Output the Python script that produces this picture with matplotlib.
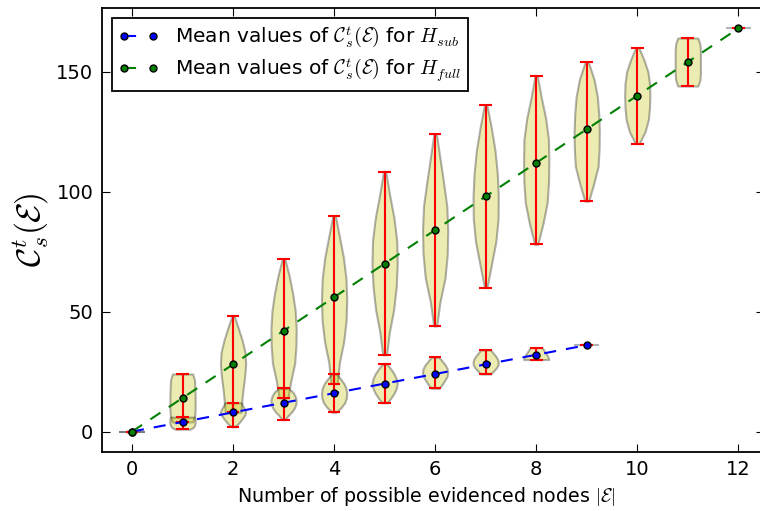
import numpy as np
import matplotlib
matplotlib.use("Agg")
import matplotlib.pyplot as plt

# mean / extrema of C_s^t(E) for each number of evidenced nodes
n_nodes_full = [0, 1, 2, 3, 4, 5, 6, 7, 8, 9, 10, 11, 12]
mean_full = [0, 14, 28, 42, 56, 70, 84, 98, 112, 126, 140, 154, 168]
min_full = [0, 4, 8, 14, 20, 32, 44, 60, 78, 96, 120, 144, 168]
max_full = [0, 24, 48, 72, 90, 108, 124, 136, 148, 154, 160, 164, 168]

n_nodes_sub = [0, 1, 2, 3, 4, 5, 6, 7, 8, 9]
mean_sub = [0, 4, 8, 12, 16, 20, 24, 28, 32, 36]
min_sub = [0, 1, 2, 5, 8, 12, 18, 24, 30, 36]
max_sub = [0, 6, 12, 18, 24, 28, 31, 34, 35, 36]

# relative violin widths, read bottom -> top (min to max)
shape_full = [
    [1, 1, 1, 1, 1, 1, 1, 1, 1],
    [0.8, 0.96, 1.0, 1.0, 1.0, 0.99, 0.97, 0.95, 0.8],
    [0.62, 0.7, 0.8, 0.92, 1.0, 0.95, 0.72, 0.42, 0.1],
    [0.35, 0.58, 0.88, 0.98, 1.0, 0.92, 0.72, 0.45, 0.1],
    [0.25, 0.42, 0.76, 0.95, 1.0, 0.94, 0.74, 0.42, 0.1],
    [0.15, 0.38, 0.72, 0.92, 1.0, 0.96, 0.74, 0.4, 0.1],
    [0.12, 0.38, 0.78, 0.96, 1.0, 0.92, 0.66, 0.38, 0.1],
    [0.1, 0.45, 0.8, 0.98, 1.0, 0.92, 0.74, 0.45, 0.1],
    [0.12, 0.54, 0.87, 0.98, 1.0, 0.97, 0.75, 0.4, 0.1],
    [0.15, 0.55, 0.9, 0.98, 1.0, 0.95, 0.84, 0.58, 0.12],
    [0.15, 0.62, 0.88, 0.97, 1.0, 0.97, 0.84, 0.52, 0.12],
    [0.8, 0.96, 1.0, 1.0, 1.0, 1.0, 1.0, 0.96, 0.8],
    [1, 1, 1, 1, 1, 1, 1, 1, 1],
]
shape_sub = [
    [1, 1, 1, 1, 1, 1, 1, 1, 1],
    [0.6, 0.82, 0.92, 0.97, 1.0, 1.0, 1.0, 1.0, 0.96],
    [0.12, 0.4, 0.6, 0.78, 0.94, 1.0, 0.9, 0.76, 0.65],
    [0.12, 0.35, 0.65, 0.86, 0.98, 1.0, 0.92, 0.74, 0.4],
    [0.15, 0.55, 0.84, 0.97, 1.0, 0.94, 0.78, 0.5, 0.18],
    [0.2, 0.5, 0.75, 0.92, 1.0, 0.92, 0.75, 0.5, 0.2],
    [0.3, 0.55, 0.75, 0.93, 1.0, 0.96, 0.8, 0.55, 0.3],
    [0.4, 0.62, 0.84, 0.98, 1.0, 0.93, 0.78, 0.58, 0.4],
    [1.0, 0.97, 0.92, 0.85, 0.78, 0.7, 0.62, 0.55, 0.47],
    [1, 1, 1, 1, 1, 1, 1, 1, 1],
]

plt.rcParams.update({
    "font.family": "DejaVu Sans",
    "mathtext.fontset": "cm",
    "font.size": 14,
    "axes.linewidth": 1.3,
    "xtick.direction": "in",
    "ytick.direction": "in",
    "xtick.top": True,
    "ytick.right": True,
    "xtick.major.size": 5.5,
    "ytick.major.size": 5.5,
    "xtick.major.pad": 6,
    "ytick.major.pad": 6,
})


def build_stats(mins, maxs, means, shapes):
    stats = []
    for lo, hi, m, s in zip(mins, maxs, means, shapes):
        stats.append({
            "coords": np.linspace(lo, hi, len(s)),
            "vals": np.array(s, dtype=float),
            "mean": m, "median": m, "min": lo, "max": hi,
        })
    return stats


def style_violin(parts):
    for body in parts["bodies"]:
        body.set_facecolor("y")
        body.set_edgecolor("k")
        body.set_alpha(0.3)
        body.set_linewidth(1.5)
    for key in ("cmaxes", "cmins", "cbars"):
        parts[key].set_color("r")
        parts[key].set_linewidth(1.5)


fig = plt.figure(figsize=(7.6, 5.11), dpi=100)
ax = fig.add_axes([0.1338, 0.116, 0.8709, 0.8678])

vp_full = ax.violin(build_stats(min_full, max_full, mean_full, shape_full),
                    positions=n_nodes_full, widths=0.5)
style_violin(vp_full)
vp_sub = ax.violin(build_stats(min_sub, max_sub, mean_sub, shape_sub),
                   positions=n_nodes_sub, widths=0.5)
style_violin(vp_sub)

ax.plot(n_nodes_sub, mean_sub, "o--", color="b", mfc="b", mec="k", ms=5,
        lw=1.5, dashes=(5.8, 4.8),
        label=r"Mean values of $\mathcal{C}^t_s(\mathcal{E})$ for $H_{sub}$")
ax.plot(n_nodes_full, mean_full, "o--", color="g", mfc="g", mec="k", ms=5,
        lw=1.5, dashes=(5.8, 4.8),
        label=r"Mean values of $\mathcal{C}^t_s(\mathcal{E})$ for $H_{full}$")

ax.set_xlim(-0.6, 12.5)
ax.set_ylim(-8.4, 176.4)
ax.set_xticks(range(0, 13, 2))
ax.set_yticks([0, 50, 100, 150])
ax.set_xlabel(r"Number of possible evidenced nodes $|\mathcal{E}|$", fontsize=13.7)
ax.xaxis.label.set_x(0.491)
ax.set_ylabel(r"$\mathcal{C}^t_s(\mathcal{E})$", fontsize=24)

leg = ax.legend(loc="upper left", numpoints=2, fancybox=False, framealpha=1,
                edgecolor="k", fontsize=14.5, labelspacing=0.32, borderpad=0.33)
leg.get_frame().set_linewidth(1.3)
for ln in leg.get_lines():
    ln.set_dashes((5.8, 9))

fig.savefig("out.png", dpi=100)
